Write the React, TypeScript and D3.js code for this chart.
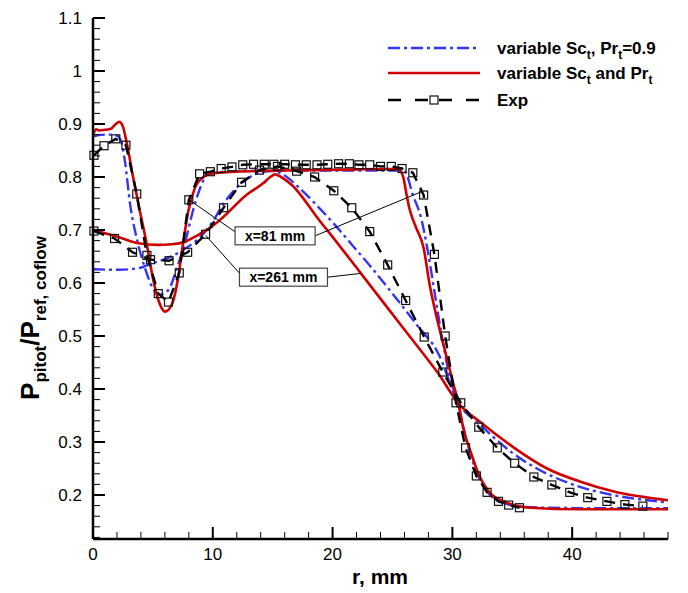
import React from 'react';
import * as d3 from 'd3';

// ---------- data ----------
// x = 81 mm, variable Sc_t, Pr_t = 0.9 (blue dash-dot)
const rBlue81 = [0, 0.5, 1.0, 1.5, 2.0, 2.3, 2.67, 3.1, 3.65, 4.34, 5.0, 5.6, 6.3, 7.0, 7.7, 8.4, 9.1, 9.5, 10.5, 12, 15, 18, 21, 24, 25.5, 26.04, 26.7, 27.4, 27.95, 28.5, 29.1, 29.8, 30.5, 31.0, 31.9, 33.1, 34.3, 35.6, 38, 42, 48];
const vBlue81 = [0.876, 0.879, 0.88, 0.88, 0.878, 0.87, 0.829, 0.748, 0.684, 0.628, 0.59, 0.578, 0.587, 0.628, 0.678, 0.741, 0.788, 0.804, 0.809, 0.811, 0.812, 0.812, 0.812, 0.812, 0.812, 0.81, 0.766, 0.722, 0.66, 0.584, 0.502, 0.421, 0.371, 0.32, 0.251, 0.201, 0.185, 0.178, 0.176, 0.175, 0.175];
// x = 81 mm, variable Sc_t and Pr_t (red)
const rRed81 = [0, 0.25, 0.5, 1.0, 1.5, 1.9, 2.2, 2.5, 2.8, 3.37, 3.92, 4.5, 5.0, 5.6, 6.0, 6.57, 7.1, 7.5, 7.95, 8.5, 9.2, 10.04, 12, 15, 18, 21, 24, 25.5, 25.9, 26.15, 26.4, 26.7, 27.0, 27.6, 28.1, 28.7, 29.4, 30.1, 30.5, 30.9, 31.5, 32.2, 33.1, 34.5, 36.5, 40.7, 48];
const vRed81 = [0.876, 0.89, 0.888, 0.889, 0.891, 0.9, 0.904, 0.895, 0.866, 0.797, 0.735, 0.672, 0.609, 0.559, 0.546, 0.559, 0.609, 0.672, 0.735, 0.779, 0.80, 0.807, 0.81, 0.812, 0.813, 0.814, 0.815, 0.815, 0.80, 0.77, 0.742, 0.72, 0.703, 0.666, 0.597, 0.534, 0.471, 0.408, 0.374, 0.327, 0.283, 0.239, 0.205, 0.186, 0.176, 0.173, 0.173];
// x = 81 mm, experiment
const rExp81 = [0.08, 0.92, 1.9, 2.75, 3.65, 4.5, 5.45, 6.3, 7.2, 8.0, 8.9, 9.8, 10.7, 11.6, 12.5, 13.4, 14.3, 15.1, 16.0, 16.9, 17.8, 18.7, 19.6, 20.5, 21.4, 22.2, 23.1, 24.0, 24.9, 25.8, 26.7, 27.6, 28.5, 29.4, 30.3, 31.1, 32.0, 32.9, 33.85, 34.7, 35.6];
const vExp81 = [0.841, 0.859, 0.872, 0.86, 0.768, 0.652, 0.58, 0.564, 0.619, 0.757, 0.806, 0.81, 0.816, 0.819, 0.823, 0.824, 0.824, 0.824, 0.824, 0.823, 0.823, 0.823, 0.824, 0.825, 0.825, 0.823, 0.823, 0.82, 0.82, 0.816, 0.808, 0.766, 0.654, 0.50, 0.374, 0.289, 0.236, 0.205, 0.188, 0.181, 0.176];

// x = 261 mm, variable Sc_t, Pr_t = 0.9 (blue dash-dot)
const rBlue261 = [0, 2.1, 3.8, 4.9, 6.0, 7.7, 9.1, 10.0, 10.9, 12.5, 13.9, 15.0, 16.0, 17.0, 18.4, 20.1, 21.7, 23.4, 25.0, 27.0, 28.8, 30.5, 32.3, 35.1, 37.9, 40.7, 43.4, 48];
const vBlue261 = [0.626, 0.625, 0.628, 0.637, 0.645, 0.665, 0.69, 0.716, 0.75, 0.79, 0.808, 0.811, 0.803, 0.784, 0.753, 0.712, 0.67, 0.625, 0.58, 0.522, 0.468, 0.374, 0.333, 0.278, 0.24, 0.215, 0.2, 0.186];
// x = 261 mm, variable Sc_t and Pr_t (red)
const rRed261 = [0, 2.1, 3.8, 5.45, 6.57, 7.7, 8.8, 9.9, 10.9, 12.8, 14.2, 14.8, 15.2, 15.7, 16.6, 18.9, 19.65, 22.3, 24.8, 27.0, 28.8, 30.5, 32.3, 35.1, 37.9, 40.7, 43.4, 48];
const vRed261 = [0.70, 0.687, 0.675, 0.672, 0.673, 0.678, 0.691, 0.706, 0.725, 0.766, 0.788, 0.80, 0.805, 0.80, 0.785, 0.718, 0.697, 0.62, 0.547, 0.483, 0.43, 0.373, 0.338, 0.29, 0.25, 0.225, 0.207, 0.19];
// x = 261 mm, experiment
const rExp261 = [0.08, 1.8, 3.3, 4.8, 6.35, 7.9, 9.4, 10.9, 12.4, 13.9, 15.4, 17.0, 18.5, 20.1, 21.6, 23.1, 24.6, 26.1, 27.65, 29.2, 30.7, 32.2, 33.75, 35.2, 36.8, 38.3, 39.8, 41.3, 42.9, 44.4, 45.9];
const vExp261 = [0.698, 0.684, 0.658, 0.644, 0.642, 0.658, 0.692, 0.742, 0.79, 0.813, 0.82, 0.811, 0.80, 0.774, 0.742, 0.697, 0.634, 0.567, 0.498, 0.432, 0.374, 0.328, 0.289, 0.26, 0.234, 0.219, 0.205, 0.195, 0.188, 0.182, 0.179];

// ticks
const xMajor = [0, 10, 20, 30, 40];
const yMajor = [0.2, 0.3, 0.4, 0.5, 0.6, 0.7, 0.8, 0.9, 1.0, 1.1];
const yLabels = ['0.2', '0.3', '0.4', '0.5', '0.6', '0.7', '0.8', '0.9', '1', '1.1'];

// annotations: label, box centre (r, v), leader-line targets (r, v)
const annLabels = ['x=81 mm', 'x=261 mm'];
const annCentre = [[15.2, 0.689], [15.9, 0.611]];
const annTargets = [[[7.95, 0.758], [27.4, 0.772]], [[9.4, 0.69], [22.3, 0.618]]];

const FONT = '"Liberation Sans", Arial, Helvetica, sans-serif';
const BLUE = '#3535f5';
const RED = '#d00000';

function zip(a: number[], b: number[]): [number, number][] {
  return a.map((v, i) => [v, b[i]] as [number, number]);
}

export default function App() {
  const x = d3.scaleLinear().domain([0, 48]).range([93, 668]);
  const y = d3.scaleLinear().domain([0.117, 1.1]).range([539, 18]);
  const sim = d3.line<[number, number]>().x(d => x(d[0])).y(d => y(d[1])).curve(d3.curveMonotoneX);
  const lin = d3.line<[number, number]>().x(d => x(d[0])).y(d => y(d[1]));

  const xMinor = d3.range(0, 48.01, 2).filter(v => v % 10 !== 0);
  const yMinor = d3.range(0.12, 1.1001, 0.02).filter(v => Math.abs(v * 10 - Math.round(v * 10)) > 0.01);

  const expSets = [zip(rExp81, vExp81), zip(rExp261, vExp261)];
  const blueSets = [zip(rBlue81, vBlue81), zip(rBlue261, vBlue261)];
  const redSets = [zip(rRed81, vRed81), zip(rRed261, vRed261)];

  const x0 = x(0), yb = y(0.117);
  const sq = 8;

  return (
    <svg width={688} height={593} style={{ position: 'absolute', left: 0, top: 0, background: '#fff' }} fontFamily={FONT}>
      <rect x={0} y={0} width={688} height={593} fill="#fff" />
      {/* series */}
      {blueSets.map((d, i) => (
        <path key={'b' + i} d={sim(d) || ''} fill="none" stroke={BLUE} strokeWidth={2.4} strokeDasharray="12,4,3,4" />
      ))}
      {redSets.map((d, i) => (
        <path key={'r' + i} d={sim(d) || ''} fill="none" stroke={RED} strokeWidth={2.6} />
      ))}
      {expSets.map((d, i) => (
        <path key={'e' + i} d={lin(d) || ''} fill="none" stroke="#000" strokeWidth={2.4} strokeDasharray="11,8" />
      ))}
      {expSets.map((d, i) => d.map((p, j) => (
        <rect key={'s' + i + '-' + j} x={x(p[0]) - sq / 2} y={y(p[1]) - sq / 2} width={sq} height={sq} fill="none" stroke="#111" strokeWidth={1.2} />
      )))}

      {/* annotations */}
      {annLabels.map((lab, i) => {
        const cx = x(annCentre[i][0]);
        const cy = y(annCentre[i][1]);
        const w = i === 0 ? 80 : 88;
        const h = 18;
        const t0 = annTargets[i][0];
        const t1 = annTargets[i][1];
        return (
          <g key={'a' + i}>
            <line x1={cx - w / 2} y1={cy - 4} x2={x(t0[0])} y2={y(t0[1])} stroke="#000" strokeWidth={1} />
            <line x1={cx + w / 2} y1={cy} x2={x(t1[0])} y2={y(t1[1])} stroke="#000" strokeWidth={1} />
            <rect x={cx - w / 2} y={cy - h / 2} width={w} height={h} fill="#fff" stroke="#444" strokeWidth={1.2} />
            <text x={cx} y={cy + 5} textAnchor="middle" fontSize={14} fontWeight="bold" fill="#000">{lab}</text>
          </g>
        );
      })}

      {/* axes */}
      <line x1={x0} y1={yb} x2={x(48)} y2={yb} stroke="#000" strokeWidth={2.5} />
      <line x1={x0} y1={yb} x2={x0} y2={y(1.1)} stroke="#000" strokeWidth={2.5} />
      {xMajor.map(v => (
        <g key={'xm' + v}>
          <line x1={x(v)} y1={yb} x2={x(v)} y2={yb - 12} stroke="#000" strokeWidth={2} />
          <text x={x(v)} y={yb + 21} textAnchor="middle" fontSize={17}>{v}</text>
        </g>
      ))}
      {xMinor.map(v => (
        <line key={'xn' + v} x1={x(v)} y1={yb} x2={x(v)} y2={yb - 7} stroke="#000" strokeWidth={1} />
      ))}
      {yMajor.map((v, i) => (
        <g key={'ym' + v}>
          <line x1={x0} y1={y(v)} x2={x0 + 12} y2={y(v)} stroke="#000" strokeWidth={2} />
          <text x={x0 - 11} y={y(v) + 6} textAnchor="end" fontSize={17}>{yLabels[i]}</text>
        </g>
      ))}
      {yMinor.map(v => (
        <line key={'yn' + v.toFixed(2)} x1={x0} y1={y(v)} x2={x0 + 7} y2={y(v)} stroke="#000" strokeWidth={1} />
      ))}

      {/* axis titles */}
      <text x={380} y={584} textAnchor="middle" fontSize={21} fontWeight="bold">r, mm</text>
      <text transform="translate(39,318) rotate(-90)" textAnchor="middle" fontSize={26} fontWeight="bold">
        P<tspan fontSize={17} dy={7}>pitot</tspan><tspan dy={-7}>/P</tspan><tspan fontSize={17} dy={7}>ref, coflow</tspan>
      </text>

      {/* legend */}
      <g>
        <line x1={388} y1={48} x2={480} y2={48} stroke={BLUE} strokeWidth={2.4} strokeDasharray="12,4,3,4" />
        <text x={497} y={54} fontSize={17} fontWeight="bold">variable Sc<tspan fontSize={12} dy={5}>t</tspan><tspan dy={-5}>, Pr</tspan><tspan fontSize={12} dy={5}>t</tspan><tspan dy={-5}>=0.9</tspan></text>
        <line x1={388} y1={73} x2={480} y2={73} stroke={RED} strokeWidth={2.6} />
        <text x={497} y={79} fontSize={17} fontWeight="bold">variable Sc<tspan fontSize={12} dy={5}>t</tspan><tspan dy={-5}> and Pr</tspan><tspan fontSize={12} dy={5}>t</tspan></text>
        <line x1={388} y1={100} x2={430} y2={100} stroke="#000" strokeWidth={2.4} strokeDasharray="13,14" />
        <line x1={438} y1={100} x2={480} y2={100} stroke="#000" strokeWidth={2.4} strokeDasharray="13,14" strokeDashoffset={-1} />
        <rect x={430} y={96} width={8} height={8} fill="none" stroke="#111" strokeWidth={1.2} />
        <text x={497} y={106} fontSize={17} fontWeight="bold">Exp</text>
      </g>
    </svg>
  );
}
